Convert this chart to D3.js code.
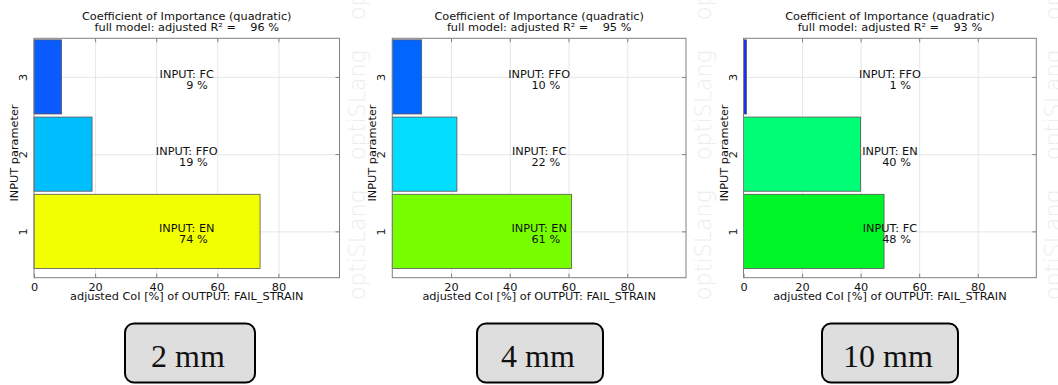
<!DOCTYPE html>
<html>
<head>
<meta charset="utf-8">
<script src="https://cdn.jsdelivr.net/npm/d3@7"></script>
<style>
  body { margin: 0; background: #fff; }
  svg text { font-family: "DejaVu Sans", Verdana, sans-serif; font-size: 11.3px; fill: #111; }
  .grid line { stroke: #e6e6e6; }
  .grid path { display: none; }
  .ax path { display: none; }
  .ax line { stroke: #808080; }
  .mark { font-family: "DejaVu Sans", sans-serif; font-weight: 200; font-size: 23px; fill: #ededed; }
  .box text { font-family: "Liberation Serif", "Times New Roman", serif; font-size: 32px; fill: #111; }
</style>
</head>
<body>
<div id="chart"></div>
<script>
    // one panel per element size
    var panelNames = ["2 mm", "4 mm", "10 mm"];
    var r2Values = [96, 95, 93];
    var params2mm = ["EN", "FFO", "FC"];
    var coi2mm = [74, 19, 9];
    var params4mm = ["EN", "FC", "FFO"];
    var coi4mm = [61, 22, 10];
    var params10mm = ["FC", "EN", "FFO"];
    var coi10mm = [48, 40, 1];
    var ranks = [1, 2, 3];
    var xTicks = [[0, 20, 40, 60, 80], [20, 40, 60, 80], [0, 20, 40, 60, 80]];
    var gridTicks = [20, 40, 60, 80];

    var barColors = [
        ["#f2ff00", "#00bfff", "#0a5cff"],
        ["#77ff00", "#00ddff", "#0066ff"],
        ["#00f526", "#00ff77", "#1a2eff"]
    ];

    var panels = [
        {name: panelNames[0], r2: r2Values[0], params: params2mm, coi: coi2mm, left: 34, right: 339.5, box: [125, 255]},
        {name: panelNames[1], r2: r2Values[1], params: params4mm, coi: coi4mm, left: 392.3, right: 686, box: [477, 603]},
        {name: panelNames[2], r2: r2Values[2], params: params10mm, coi: coi10mm, left: 743.5, right: 1036.3, box: [822, 958]}
    ];

    var plotTop = 38.3, plotBottom = 277.7;

    var svg = d3.select("#chart").append("svg")
        .attr("width", 1058)
        .attr("height", 385);

    panels.forEach(function(p, pi) {
        var x = d3.scaleLinear().domain([0, 100]).range([p.left, p.right]);
        var y = d3.scaleLinear().domain([0.4, 3.5]).range([plotBottom, plotTop]);
        var cx = (p.left + p.right) / 2;
        var g = svg.append("g");

        // watermark
        var wx = p.right + 17;
        [300, 160, 20].forEach(function(s) {
            g.append("text")
                .attr("class", "mark")
                .attr("transform", "translate(" + (wx + 8) + "," + s + ") rotate(-90)")
                .attr("textLength", 110)
                .attr("lengthAdjust", "spacingAndGlyphs")
                .text("optiSLang");
        });

        // grid
        g.append("g").attr("class", "grid")
            .attr("transform", "translate(0," + plotBottom + ")")
            .call(d3.axisBottom(x).tickValues(gridTicks).tickSize(-(plotBottom - plotTop)).tickFormat(""));
        g.append("g").attr("class", "grid")
            .attr("transform", "translate(" + p.left + ",0)")
            .call(d3.axisLeft(y).tickValues(ranks).tickSize(-(p.right - p.left)).tickFormat(""));

        // bars
        g.selectAll("rect.bar")
            .data(ranks)
            .enter().append("rect")
            .attr("class", "bar")
            .attr("x", x(0))
            .attr("y", function(d) { return y(d + 0.48); })
            .attr("width", function(d, i) { return x(p.coi[i]) - x(0); })
            .attr("height", function(d) { return y(d - 0.48) - y(d + 0.48); })
            .attr("fill", function(d, i) { return barColors[pi][i]; })
            .attr("stroke", "#555")
            .attr("stroke-width", 0.8);

        // frame
        g.append("rect")
            .attr("x", p.left).attr("y", plotTop)
            .attr("width", p.right - p.left).attr("height", plotBottom - plotTop)
            .attr("fill", "none").attr("stroke", "#808080");

        // axes
        g.append("g").attr("class", "ax")
            .attr("transform", "translate(0," + plotBottom + ")")
            .call(d3.axisBottom(x).tickValues(xTicks[pi]).tickSize(-4).tickPadding(5).tickFormat(d3.format("d")));
        g.append("g").attr("class", "ax")
            .attr("transform", "translate(0," + plotTop + ")")
            .call(d3.axisTop(x).tickValues(gridTicks).tickSize(-4).tickFormat(""));
        g.append("g").attr("class", "ax")
            .attr("transform", "translate(" + p.right + ",0)")
            .call(d3.axisRight(y).tickValues(ranks).tickSize(-4).tickFormat(""));
        var yl = g.append("g").attr("class", "ax")
            .attr("transform", "translate(" + p.left + ",0)")
            .call(d3.axisLeft(y).tickValues(ranks).tickSize(0).tickFormat(d3.format("d")));
        yl.selectAll("text")
            .attr("x", 0).attr("y", -7).attr("dy", 0)
            .attr("text-anchor", "middle")
            .attr("transform", "rotate(-90)");

        // bar labels
        ranks.forEach(function(d, i) {
            g.append("text")
                .attr("x", cx).attr("y", y(d) + 1)
                .attr("text-anchor", "middle")
                .text("INPUT: " + p.params[i]);
            g.append("text")
                .attr("x", cx + 21).attr("y", y(d) + 12)
                .attr("text-anchor", "end")
                .text(p.coi[i] + " %");
        });

        // titles
        g.append("text").attr("x", cx).attr("y", 20).attr("text-anchor", "middle")
            .text("Coefficient of Importance (quadratic)");
        g.append("text").attr("x", cx).attr("y", 30.5).attr("text-anchor", "middle")
            .style("white-space", "pre")
            .text("full model: adjusted R\u00b2 =    " + p.r2 + " %");
        g.append("text").attr("x", cx).attr("y", 300).attr("text-anchor", "middle")
            .text("adjusted CoI [%] of OUTPUT: FAIL_STRAIN");
        g.append("text")
            .attr("transform", "translate(" + (p.left - 16) + "," + 153 + ") rotate(-90)")
            .attr("text-anchor", "middle")
            .text("INPUT parameter");

        // size box
        var bx = g.append("g").attr("class", "box");
        bx.append("rect")
            .attr("x", p.box[0]).attr("y", 323.5)
            .attr("width", p.box[1] - p.box[0]).attr("height", 59)
            .attr("rx", 9)
            .attr("fill", "#dedede").attr("stroke", "#000").attr("stroke-width", 2);
        bx.append("text")
            .attr("x", (p.box[0] + p.box[1]) / 2 - 2).attr("y", 367)
            .attr("text-anchor", "middle")
            .text(p.name);
    });
</script>
</body>
</html>
